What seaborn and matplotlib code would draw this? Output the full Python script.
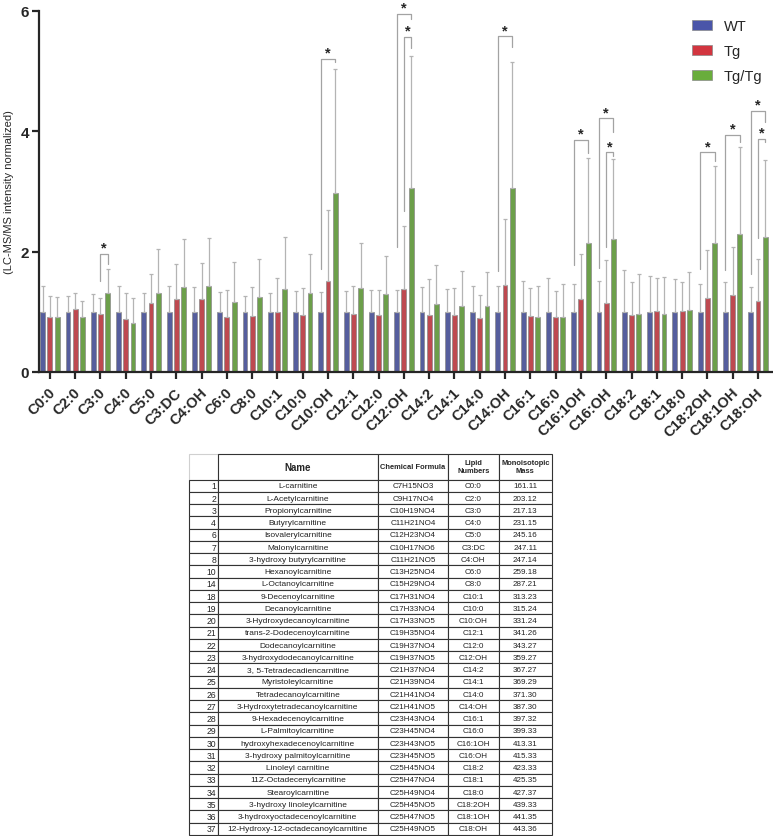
import numpy as np
import pandas as pd
import matplotlib
matplotlib.use('Agg')
import matplotlib.pyplot as plt
import seaborn as sns
from matplotlib.patches import Patch
from matplotlib.table import Table
from matplotlib.transforms import ScaledTranslation

# acylcarnitine species (x axis and "Lipid Numbers" column)
lipids = ['C0:0', 'C2:0', 'C3:0', 'C4:0', 'C5:0', 'C3:DC', 'C4:OH', 'C6:0', 'C8:0',
          'C10:1', 'C10:0', 'C10:OH', 'C12:1', 'C12:0', 'C12:OH', 'C14:2', 'C14:1',
          'C14:0', 'C14:OH', 'C16:1', 'C16:0', 'C16:1OH', 'C16:OH', 'C18:2', 'C18:1',
          'C18:0', 'C18:2OH', 'C18:1OH', 'C18:OH']
groups = ['WT', 'Tg', 'Tg/Tg']
colors = ['#4a55a9', '#d2353f', '#69ad3c']

wt_mean = [1.0] * 29
wt_err = [0.43, 0.26, 0.30, 0.43, 0.31, 0.43, 0.41, 0.33, 0.26, 0.32, 0.34, 0.33, 0.34, 0.36,
          0.37, 0.41, 0.38, 0.43, 0.43, 0.51, 0.56, 0.46, 0.51, 0.69, 0.60, 0.55, 0.47, 0.49, 0.41]
tg_mean = [0.91, 1.05, 0.96, 0.88, 1.15, 1.21, 1.22, 0.91, 0.93, 1.00, 0.94, 1.52, 0.97, 0.94,
           1.38, 0.95, 0.94, 0.90, 1.45, 0.93, 0.92, 1.21, 1.15, 0.95, 1.01, 1.01, 1.23, 1.28, 1.18]
tg_err = [0.36, 0.27, 0.27, 0.43, 0.48, 0.58, 0.59, 0.45, 0.48, 0.57, 0.45, 1.17, 0.46, 0.42,
          1.04, 0.59, 0.45, 0.38, 1.09, 0.47, 0.42, 0.75, 0.71, 0.55, 0.56, 0.49, 0.80, 0.79, 0.70]
tgtg_mean = [0.92, 0.91, 1.31, 0.81, 1.31, 1.41, 1.43, 1.17, 1.25, 1.38, 1.31, 2.97, 1.40, 1.30,
             3.06, 1.13, 1.10, 1.09, 3.06, 0.91, 0.91, 2.15, 2.21, 0.97, 0.96, 1.03, 2.15, 2.30, 2.24]
tgtg_err = [0.32, 0.27, 0.40, 0.42, 0.73, 0.80, 0.80, 0.66, 0.63, 0.87, 0.65, 2.06, 0.74, 0.63,
            2.19, 0.65, 0.57, 0.57, 2.09, 0.52, 0.55, 1.40, 1.33, 0.65, 0.62, 0.63, 1.28, 1.44, 1.28]

# significance brackets: lipid, from group, to group, bracket height, leg bottoms
br_lipid = ['C3:0', 'C10:OH', 'C12:OH', 'C12:OH', 'C14:OH', 'C16:1OH', 'C16:OH', 'C16:OH',
            'C18:2OH', 'C18:1OH', 'C18:OH', 'C18:OH']
br_from = ['Tg', 'WT', 'WT', 'Tg', 'WT', 'WT', 'WT', 'Tg', 'WT', 'WT', 'WT', 'Tg']
br_to = ['Tg/Tg'] * 12
br_top = [1.96, 5.21, 5.95, 5.57, 5.58, 3.86, 4.22, 3.65, 3.65, 3.94, 4.34, 3.88]
br_low_from = [1.52, 1.71, 2.07, 2.68, 1.68, 1.77, 1.72, 2.07, 1.71, 1.70, 1.63, 2.23]
br_low_to = [1.79, 5.15, 5.87, 5.38, 5.40, 3.64, 3.99, 3.59, 3.51, 3.82, 4.15, 3.82]

# table below the chart
tab_no = [1, 2, 3, 4, 6, 7, 8, 10, 14, 18, 19, 20, 21, 22, 23, 24, 25, 26, 27, 28, 29, 30,
          31, 32, 33, 34, 35, 36, 37]
tab_name = ['L-carnitine', 'L-Acetylcarnitine', 'Propionylcarnitine', 'Butyrylcarnitine',
            'Isovalerylcarnitine', 'Malonylcarnitine', '3-hydroxy butyrylcarnitine',
            'Hexanoylcarnitine', 'L-Octanoylcarnitine', '9-Decenoylcarnitine',
            'Decanoylcarnitine', '3-Hydroxydecanoylcarnitine', 'trans-2-Dodecenoylcarnitine',
            'Dodecanoylcarnitine', '3-hydroxydodecanoylcarnitine', '3, 5-Tetradecadiencarnitine',
            'Myristoleylcarnitine', 'Tetradecanoylcarnitine', '3-Hydroxytetradecanoylcarnitine',
            '9-Hexadecenoylcarnitine', 'L-Palmitoylcarnitine', 'hydroxyhexadecenoylcarnitine',
            '3-hydroxy palmitoylcarnitine', 'Linoleyl carnitine', '11Z-Octadecenylcarnitine',
            'Stearoylcarnitine', '3-hydroxy linoleylcarnitine', '3-hydroxyoctadecenoylcarnitine',
            '12-Hydroxy-12-octadecanoylcarnitine']
tab_formula = ['C7H15NO3', 'C9H17NO4', 'C10H19NO4', 'C11H21NO4', 'C12H23NO4', 'C10H17NO6',
               'C11H21NO5', 'C13H25NO4', 'C15H29NO4', 'C17H31NO4', 'C17H33NO4', 'C17H33NO5',
               'C19H35NO4', 'C19H37NO4', 'C19H37NO5', 'C21H37NO4', 'C21H39NO4', 'C21H41NO4',
               'C21H41NO5', 'C23H43NO4', 'C23H45NO4', 'C23H43NO5', 'C23H45NO5', 'C25H45NO4',
               'C25H47NO4', 'C25H49NO4', 'C25H45NO5', 'C25H47NO5', 'C25H49NO5']
tab_mass = ['161.11', '203.12', '217.13', '231.15', '245.16', '247.11', '247.14', '259.18',
            '287.21', '313.23', '315.24', '331.24', '341.26', '343.27', '359.27', '367.27',
            '369.29', '371.30', '387.30', '397.32', '399.33', '413.31', '415.33', '423.33',
            '425.35', '427.37', '439.33', '441.35', '443.36']
tab_header = ['', 'Name', 'Chemical Formula', 'Lipid\nNumbers', 'Monoisotopic\nMass']

sns.set_style('ticks')
plt.rcParams['font.family'] = ['Liberation Sans', 'DejaVu Sans']

df = pd.DataFrame({
    'lipid': lipids * 3,
    'group': [g for g in groups for _ in lipids],
    'value': wt_mean + tg_mean + tgtg_mean,
})
errs = {'WT': wt_err, 'Tg': tg_err, 'Tg/Tg': tgtg_err}
means = {'WT': wt_mean, 'Tg': tg_mean, 'Tg/Tg': tgtg_mean}

fig = plt.figure(figsize=(7.73, 8.37), dpi=100)
ax = fig.add_axes([0.0505, 0.5544, 0.948, 0.4313])

sns.barplot(data=df, x='lipid', y='value', hue='group', order=lipids, hue_order=groups,
            palette=colors, errorbar=None, width=0.86, gap=0.33, edgecolor='#8a8a8a',
            linewidth=0.5, legend=False, ax=ax)

# bar centres from the drawn bars
centers = {}
for g, cont in zip(groups, ax.containers):
    centers[g] = np.array([b.get_x() + b.get_width() / 2 for b in cont])

for g in groups:
    ax.errorbar(centers[g], means[g], yerr=[np.zeros(len(lipids)), errs[g]], fmt='none',
                ecolor='#b4b4b4', elinewidth=0.9, capsize=1.3, capthick=0.9, zorder=1)

for lip, a, b, top, la, lb in zip(br_lipid, br_from, br_to, br_top, br_low_from, br_low_to):
    i = lipids.index(lip)
    xa, xb = centers[a][i], centers[b][i]
    ax.plot([xa, xa, xb, xb], [la, top, top, lb], color='#a3a3a3', lw=0.9, clip_on=False)
    ax.annotate('*', xy=((xa + xb) / 2, top), xytext=(0, 1.5), textcoords='offset points',
                ha='center', va='baseline', fontsize=10.5, fontweight='bold',
                annotation_clip=False)

ax.set_xlim(-0.43, 28.55)
ax.set_ylim(0, 6)
ax.set_yticks([0, 2, 4, 6])
ax.set_xlabel('')
ax.set_ylabel('(LC-MS/MS intensity normalized)', fontsize=8)
ax.yaxis.set_label_coords(-0.034, 0.5)
ax.tick_params(axis='both', width=1.6, length=5)
ax.tick_params(axis='y', labelsize=11, pad=2)
for lbl in ax.get_yticklabels():
    lbl.set_fontweight('bold')
ax.set_xticks(range(len(lipids)))
ax.set_xticklabels(lipids, rotation=45, ha='right', va='center', rotation_mode='anchor',
                   fontweight='bold', fontsize=10.5)
ax.tick_params(axis='x', pad=8)
shift = ScaledTranslation(3 / 100, 0, fig.dpi_scale_trans)
for lbl in ax.get_xticklabels():
    lbl.set_transform(lbl.get_transform() + shift)
sns.despine(ax=ax)
for s in ['left', 'bottom']:
    ax.spines[s].set_linewidth(1.6)

handles = [Patch(facecolor=c, edgecolor='#8a8a8a', lw=0.5) for c in colors]
ax.legend(handles, groups, loc='upper left', bbox_to_anchor=(0.891, 0.978), frameon=False,
          fontsize=10.5, handlelength=1.37, handleheight=0.62, handletextpad=0.8,
          labelspacing=0.76, borderpad=0, borderaxespad=0)

# table
tax = fig.add_axes([0.2445, 0.0012, 0.4696, 0.4552])
tax.axis('off')
tbl = Table(tax, bbox=[0, 0, 1, 1])
col_w = [28.7, 160, 70, 50.6, 53.4]
head_h, row_h = 25.7, 12.24
head_sizes = [5, 7, 5.4, 5.4, 5.4]
body_sizes = [6.2, 6, 5.8, 5.8, 5.8]
for c, text in enumerate(tab_header):
    cell = tbl.add_cell(0, c, col_w[c], head_h, text=text, loc='center',
                        edgecolor='#d0d0d0' if c == 0 else '#333333', facecolor='white')
    cell.get_text().set_fontsize(head_sizes[c])
    cell.get_text().set_fontweight('bold')
    cell.set_linewidth(0.8)
for r in range(len(tab_no)):
    vals = [str(tab_no[r]), tab_name[r], tab_formula[r], lipids[r], tab_mass[r]]
    for c, text in enumerate(vals):
        cell = tbl.add_cell(r + 1, c, col_w[c], row_h, text=text,
                            loc='right' if c == 0 else 'center',
                            edgecolor='#333333', facecolor='white')
        cell.PAD = 0.06
        cell.get_text().set_fontsize(body_sizes[c])
        cell.get_text().set_color('#222222')
        cell.set_linewidth(0.8)
tbl.auto_set_font_size(False)
tax.add_table(tbl)

fig.savefig('out.png', dpi=100)
